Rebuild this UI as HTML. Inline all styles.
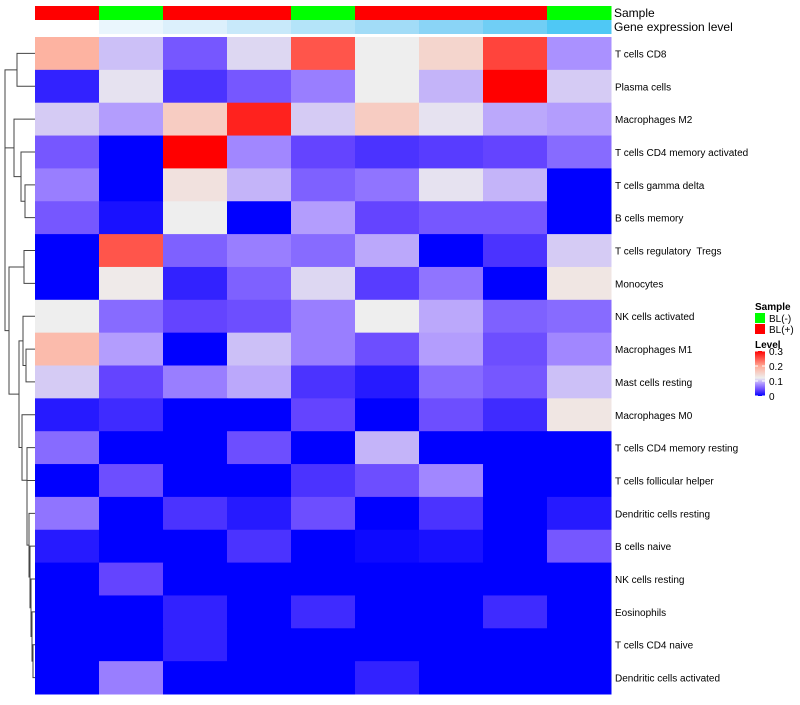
<!DOCTYPE html>
<html><head><meta charset="utf-8"><style>
body{margin:0;background:#fff;font-family:"Liberation Sans",sans-serif}
svg text{font-family:"Liberation Sans",sans-serif;white-space:pre}
</style></head><body>
<svg id="chart" width="800" height="700"></svg>
<script>
const rowLabels=["T cells CD8","Plasma cells","Macrophages M2","T cells CD4 memory activated","T cells gamma delta","B cells memory","T cells regulatory  Tregs","Monocytes","NK cells activated","Macrophages M1","Mast cells resting","Macrophages M0","T cells CD4 memory resting","T cells follicular helper","Dendritic cells resting","B cells naive","NK cells resting","Eosinophils","T cells CD4 naive","Dendritic cells activated"];
const sampleGroups=["BL(+)","BL(-)","BL(+)","BL(+)","BL(-)","BL(+)","BL(+)","BL(+)","BL(-)"];
const geneLevelColors=["#ffffff","#eaf6fd","#dcf0fc","#c8e9fa","#b4e4f9","#a2dcf7","#8ad4f6","#70cef5","#4fc8f5"];
const values=[
[0.19,0.10,0.05,0.11,0.25,0.12,0.15,0.26,0.08],
[0.02,0.115,0.03,0.05,0.07,0.12,0.095,0.30,0.105],
[0.105,0.085,0.16,0.28,0.105,0.16,0.115,0.09,0.085],
[0.05,0,0.30,0.075,0.04,0.03,0.035,0.04,0.06],
[0.07,0,0.135,0.095,0.055,0.065,0.115,0.095,0],
[0.05,0.01,0.12,0,0.085,0.04,0.05,0.05,0],
[0,0.25,0.055,0.07,0.06,0.09,0,0.03,0.105],
[0,0.125,0.02,0.055,0.11,0.035,0.065,0,0.13],
[0.12,0.06,0.04,0.045,0.07,0.12,0.09,0.055,0.06],
[0.18,0.085,0,0.10,0.07,0.045,0.085,0.045,0.075],
[0.105,0.04,0.07,0.09,0.03,0.015,0.06,0.05,0.10],
[0.015,0.025,0,0,0.04,0,0.045,0.025,0.13],
[0.06,0,0,0.045,0,0.095,0,0,0],
[0,0.045,0,0,0.03,0.045,0.075,0,0],
[0.065,0,0.03,0.015,0.045,0,0.03,0,0.015],
[0.015,0,0,0.03,0,0.005,0.01,0,0.05],
[0,0.04,0,0,0,0,0,0,0],
[0,0,0.02,0,0.025,0,0,0.025,0],
[0,0,0.02,0,0,0,0,0,0],
[0,0.07,0,0,0,0.02,0,0,0]];
const legendTicks=[0,0.1,0.2,0.3];

const NS="http://www.w3.org/2000/svg";
const svg=document.getElementById("chart");
function mk(t,a,p){const e=document.createElementNS(NS,t);for(const k in a)e.setAttribute(k,a[k]);(p||svg).appendChild(e);return e;}
const X0=35,CW=64,Y0=37,RH=657/20;
const xS=i=>X0+i*CW, yS=r=>Y0+r*RH;
const stops=[[0,[0,0,255]],[0.04,[100,68,255]],[0.08,[170,145,255]],[0.12,[238,238,238]],[0.2,[255,170,150]],[0.3,[255,0,0]]];
function col(v){v=Math.max(0,Math.min(0.3,v));for(let i=1;i<stops.length;i++){if(v<=stops[i][0]){const [a,ca]=stops[i-1],[b,cb]=stops[i];const t=(v-a)/(b-a);return "rgb("+ca.map((c,j)=>Math.round(c+(cb[j]-c)*t)).join(",")+")";}}return "red";}
const grp=mk("g",{});


values.forEach((row,r)=>row.forEach((v,c)=>{
 const e=mk("rect",{x:xS(c),y:yS(r),width:CW+0.5,height:RH+0.5,fill:col(v)},grp);
 
 
}));
sampleGroups.forEach((g,c)=>{
 const e=mk("rect",{x:xS(c),y:6,width:CW+0.5,height:14,fill:g==="BL(+)"?"#ff0000":"#00ff00"});
 
 
 const f=mk("rect",{x:xS(c),y:20,width:CW+0.5,height:14,fill:geneLevelColors[c]});
 
 
});
let t=mk("text",{x:614,y:17,"font-size":12,fill:"#000"});t.textContent="Sample";

t=mk("text",{x:614,y:31,"font-size":12,fill:"#000"});t.textContent="Gene expression level";

rowLabels.forEach((l,r)=>{const e=mk("text",{x:615,y:yS(r)+RH/2+4,"font-size":10,fill:"#000"});e.textContent=l;
 });
const dg=mk("g",{stroke:"#444","stroke-width":1,fill:"none"});

const cy=r=>yS(r)+RH/2;
function leaf(r){return {y:cy(r),h:35,children:[]};}
function join(a,b,h){const n={y:(a.y+b.y)/2,h,children:[a,b]};mk("path",{d:`M${a.h},${a.y}H${h}V${b.y}H${b.h}`},dg);return n;}
const L=[...Array(20).keys()].map(leaf);
const A=join(L[0],L[1],17);
const B=join(L[2],join(L[3],join(L[4],L[5],25),21),14);
const AB=join(A,B,5);
const C=join(L[6],L[7],24);
const D=join(L[8],join(L[9],L[10],26),23);
let tail=join(L[18],L[19],33);
tail=join(L[17],tail,32);tail=join(L[16],tail,31);tail=join(L[15],tail,30);
tail=join(L[14],tail,29);tail=join(L[13],tail,27);tail=join(L[12],tail,27);
const E=join(L[11],tail,22);
const DE=join(D,E,19);
const CDE=join(C,DE,9);
join(AB,CDE,5);
t=mk("text",{x:755,y:310,"font-size":10,"font-weight":"bold"});t.textContent="Sample";

[["BL(-)","#00ff00"],["BL(+)","#ff0000"]].forEach(([l,c],i)=>{
 const r=mk("rect",{x:755,y:313+i*11,width:10,height:10,fill:c});
 
 const e=mk("text",{x:769,y:322+i*11,"font-size":10});e.textContent=l;
 });
t=mk("text",{x:755,y:348,"font-size":10,"font-weight":"bold"});t.textContent="Level";

const defs=mk("defs",{});const lg=mk("linearGradient",{id:"lg",x1:0,y1:1,x2:0,y2:0},defs);
for(let i=0;i<=30;i++){mk("stop",{offset:i/30,"stop-color":col(i/100)},lg);}
const ly0=396,ly1=351;
const bar=mk("rect",{x:755,y:ly1,width:10,height:ly0-ly1,fill:"url(#lg)"});

legendTicks.forEach(v=>{const y=ly0-(v/0.3)*(ly0-ly1);
 mk("line",{x1:755,x2:758,y1:y,y2:y,stroke:"#fff"});mk("line",{x1:762,x2:765,y1:y,y2:y,stroke:"#fff"});
 const e=mk("text",{x:769,y:y+4,"font-size":10});e.textContent=String(v);
 });
</script>
</body></html>
